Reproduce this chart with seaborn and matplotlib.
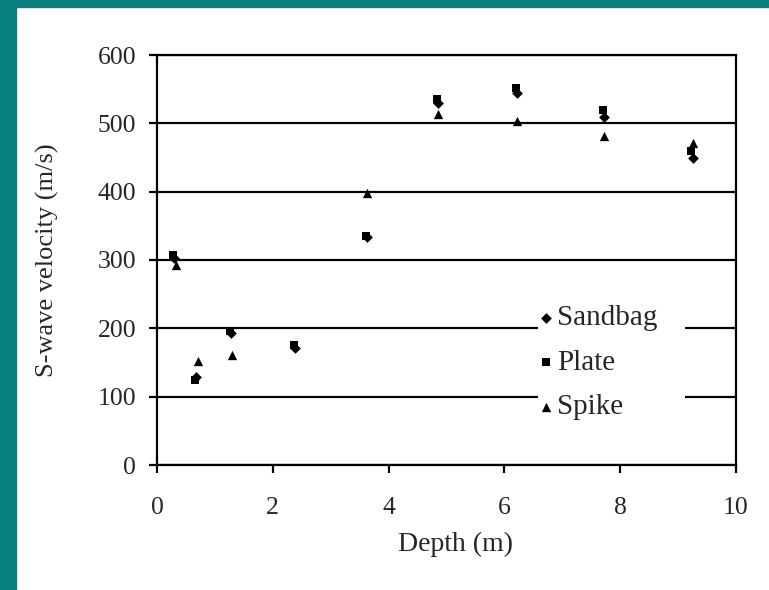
import matplotlib
matplotlib.use("Agg")
import matplotlib.pyplot as plt
import seaborn as sns
import pandas as pd
from matplotlib.patches import Rectangle

# ---- data ----
series_names = ["Sandbag", "Plate", "Spike"]

depth_sandbag = [0.30, 0.68, 1.28, 2.38, 3.63, 4.85, 6.22, 7.72, 9.25]
vel_sandbag = [303, 129, 193, 171, 333, 530, 545, 510, 449]

depth_plate = [0.28, 0.66, 1.26, 2.36, 3.61, 4.83, 6.20, 7.70, 9.23]
vel_plate = [308, 125, 196, 175, 335, 535, 551, 519, 460]

depth_spike = [0.32, 0.70, 1.30, 3.63, 4.85, 6.22, 7.72, 9.26]
vel_spike = [292, 152, 161, 398, 513, 503, 481, 471]

x_ticks = [0, 2, 4, 6, 8, 10]
y_ticks = [0, 100, 200, 300, 400, 500, 600]

df = pd.concat([
    pd.DataFrame({"Depth": depth_sandbag, "Vel": vel_sandbag, "Source": "Sandbag"}),
    pd.DataFrame({"Depth": depth_plate, "Vel": vel_plate, "Source": "Plate"}),
    pd.DataFrame({"Depth": depth_spike, "Vel": vel_spike, "Source": "Spike"}),
], ignore_index=True)

sns.set_style("white")
plt.rcParams["font.family"] = ["Liberation Serif", "DejaVu Serif"]

W, H = 769, 590
fig = plt.figure(figsize=(W / 100, H / 100), dpi=100)
fig.patch.set_facecolor("white")
# teal frame strips
teal = "#088280"
fig.add_artist(Rectangle((0, 0), 16 / W, 1, transform=fig.transFigure, color=teal, zorder=0))
fig.add_artist(Rectangle((0, 1 - 7 / H), 1, 7 / H, transform=fig.transFigure, color=teal, zorder=0))

L, R, B, T = 157, 736, 465, 55
ax = fig.add_axes([L / W, 1 - B / H, (R - L) / W, (B - T) / H])

def ax_x(px):
    return (px - L) / (R - L)

def ax_y(py):
    return (B - py) / (B - T)

markers = {"Sandbag": "D", "Plate": "s", "Spike": "^"}
sizes_map = {"Sandbag": 30, "Plate": 30, "Spike": 45}
for name in series_names:
    sub = df[df["Source"] == name]
    sns.scatterplot(data=sub, x="Depth", y="Vel", marker=markers[name], color="black",
                    s=sizes_map[name], edgecolor="black", linewidth=0, ax=ax, label=name, zorder=3)

ax.set_xlim(0, 10)
ax.set_ylim(0, 600)
ax.set_xticks(x_ticks)
ax.set_yticks(y_ticks)
ax.set_yticklabels([str(v) for v in y_ticks], fontsize=18.5)
ax.set_xticklabels([str(v) for v in x_ticks], fontsize=18.5)

ax.yaxis.grid(True, color="black", linewidth=1.6)
ax.xaxis.grid(False)
ax.set_axisbelow(True)
for sp in ax.spines.values():
    sp.set_visible(True)
    sp.set_color("black")
    sp.set_linewidth(1.6)
ax.tick_params(axis="both", direction="out", length=6, width=1.6, color="black",
               left=True, bottom=True)
ax.tick_params(axis="x", pad=17)
ax.tick_params(axis="y", pad=9)

ax.set_xlabel("Depth (m)", fontsize=20)
ax.set_ylabel("S-wave velocity (m/s)", fontsize=19)
ax.xaxis.set_label_coords(ax_x(455), ax_y(532))
ax.yaxis.set_label_coords(ax_x(59), 0.5)

# white legend background box (interrupts gridlines)
ax.add_patch(Rectangle((ax_x(538), ax_y(430)), ax_x(685) - ax_x(538), ax_y(292) - ax_y(430),
                       transform=ax.transAxes, facecolor="white", edgecolor="none", zorder=2))

leg = ax.legend(loc="upper left", bbox_to_anchor=(ax_x(537), ax_y(305)),
                frameon=False, fontsize=21, handletextpad=0.1, handlelength=0.6,
                labelspacing=0.62, borderpad=0, borderaxespad=0, markerscale=1.0)

fig.savefig("out.png", dpi=100, facecolor="white")
